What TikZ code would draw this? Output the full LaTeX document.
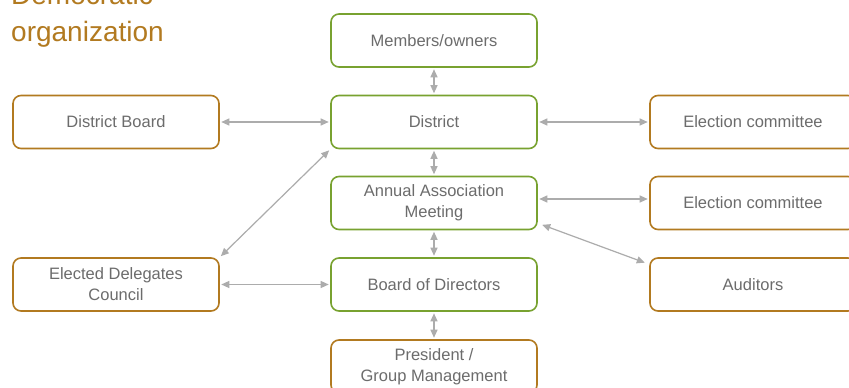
\documentclass[tikz,border=0pt]{standalone}
\usepackage{fontspec}
\setmainfont{Liberation Sans}
\usetikzlibrary{arrows.meta,calc}
\definecolor{gold}{RGB}{178,122,32}
\definecolor{leaf}{RGB}{120,162,48}
\definecolor{txt}{RGB}{108,108,108}
\definecolor{linkgray}{RGB}{172,172,172}
\begin{document}
\begin{tikzpicture}[x=1pt,y=-1pt,
  box/.style={draw, line width=1.6pt, rounded corners=8pt,
    minimum width=206pt, minimum height=53pt, inner sep=0pt,
    align=center, text=txt, fill=white,
    font=\fontsize{16.5}{21}\selectfont},
  goldbox/.style={box, draw=gold},
  greenbox/.style={box, draw=leaf},
  link/.style={draw=linkgray, line width=1.2pt,
    {Triangle[length=8pt,width=7pt]}-{Triangle[length=8pt,width=7pt]},
    shorten >=1.5pt, shorten <=1.5pt},
  heading/.style={anchor=base west, inner sep=0pt, text=gold,
    font=\fontsize{28}{34}\selectfont},
]
\useasboundingbox (0,0) rectangle (849,388);
\fill[white] (0,0) rectangle (849,388);
\clip (0,0) rectangle (849,388);

% heading
\node[heading] (t1) at (11,5) {Democratic};
\node[heading] (t2) at (11,41) {organization};

% central column
\node[greenbox] (mo)   at (434,40.5)  {Members/owners};
\node[greenbox] (dist) at (434,122)   {District};
\node[greenbox] (aam)  at (434,203)   {Annual Association\\Meeting};
\node[greenbox] (bod)  at (434,284.5) {Board of Directors};
\node[goldbox]  (pres) at (434,366.5) {President /\\Group Management};

% left column
\node[goldbox] (db)  at (116,122)   {District Board};
\node[goldbox] (edc) at (116,284.5) {Elected Delegates\\Council};

% right column
\node[goldbox] (ec1) at (753,122)   {Election committee};
\node[goldbox] (ec2) at (753,203)   {Election committee};
\node[goldbox] (aud) at (753,284.5) {Auditors};

% connections
\draw[link] (mo) -- (dist);
\draw[link] (dist) -- (aam);
\draw[link] (aam) -- (bod);
\draw[link] (bod) -- (pres);
\draw[link] (db) -- (dist);
\draw[link] (dist) -- (ec1);
\draw[link] (edc) -- (bod);
\draw[link] ([yshift=4pt]aam.east) -- ([yshift=4pt]ec2.west);
\draw[link] (dist.south west) -- (edc.north east);
\draw[link] ($(aam.south east)+(3,-6)$) -- ($(aud.north west)+(-3,6)$);
\end{tikzpicture}
\end{document}
